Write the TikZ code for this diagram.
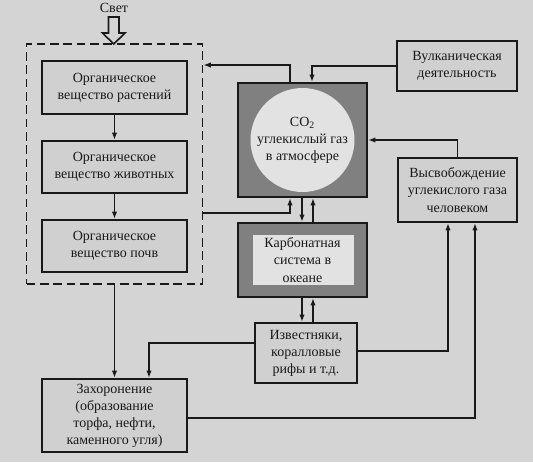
\documentclass[tikz,border=0pt]{standalone}
\usepackage{fontspec}
\setmainfont{Liberation Serif}
\usetikzlibrary{arrows.meta,calc}
\definecolor{bg}{RGB}{212,212,212}
\definecolor{boxfill}{RGB}{208,208,208}
\definecolor{dark}{RGB}{128,128,128}
\definecolor{light}{RGB}{226,226,226}
\definecolor{ink}{RGB}{25,25,25}
\begin{document}
\begin{tikzpicture}[x=0.75pt,y=-0.75pt,
  box/.style={draw=ink,line width=1.6pt,fill=boxfill,align=center,inner sep=0pt,
    font=\fontsize{10.5}{12.8}\selectfont,text=ink},
  arr/.style={draw=ink,line width=1pt,-{Latex[length=5.5pt,width=4pt]}},
  dashbox/.style={draw=ink,dash pattern=on 6.5pt off 3.5pt,line width=1.4pt,inner sep=0pt}]
\fill[bg] (0,0) rectangle (533,462);
\useasboundingbox (0,0) rectangle (533,462);

% light
\node[font=\fontsize{10.5}{12.8}\selectfont,text=ink] (svet) at (114,8) {Свет};
\draw[ink,line width=1.2pt,fill=bg] (108.5,17) -- (119,17) -- (119,33) -- (125,33)
  -- (113.75,44) -- (102.5,33) -- (108.5,33) -- cycle;

% dashed group
\node[dashbox,minimum width=132pt,minimum height=180pt] (dash) at (114.5,164) {};

\node[box,minimum width=108.75pt,minimum height=39.75pt] (p) at (114.5,87.5)
  {Органическое\\вещество растений};
\node[box,minimum width=108.75pt,minimum height=39pt] (a) at (114.5,167)
  {Органическое\\вещество животных};
\node[box,minimum width=108.75pt,minimum height=39pt] (s) at (114.5,246)
  {Органическое\\вещество почв};
\node[box,minimum width=108.75pt,minimum height=54.75pt] (z) at (114.5,415.5)
  {Захоронение\\(образование\\торфа, нефти,\\каменного угля)};

% CO2
\fill[dark] (238,83) rectangle (367,197);
\fill[light] (302.5,140) circle[radius=39pt];
\node[box,fill=none,minimum width=96.75pt,minimum height=85.5pt] (co2) at (302.5,140)
  {CO\textsubscript{2}\\углекислый газ\\в атмосфере};

% carbonate
\fill[dark] (238,223) rectangle (367,297);
\fill[light] (253,235) rectangle (354,285);
\node[box,fill=none,minimum width=96.75pt,minimum height=55.5pt] (carb) at (302.5,260)
  {Карбонатная\\система в\\океане};

\node[box,minimum width=76.5pt,minimum height=45pt] (izv) at (306,353)
  {Известняки,\\коралловые\\рифы и т.д.};
\node[box,minimum width=90pt,minimum height=37.5pt] (vulk) at (457,66)
  {Вулканическая\\деятельность};
\node[box,minimum width=89.25pt,minimum height=48pt] (vysv) at (457.5,190)
  {Высвобождение\\углекислого газа\\человеком};

% connectors
\draw[arr] (p) -- (a);
\draw[arr] (a) -- (s);
\draw[arr] (dash.south) -- (z.north);

\coordinate (c1) at (290,65);
\draw[arr] (c1 |- co2.north) -- (c1) -- (c1 -| dash.east);
\coordinate (c2) at (312,0);
\draw[arr] (vulk.west) -| (c2 |- co2.north);
\draw[arr] (vysv.north) |- (co2.east);

\coordinate (c4) at (290,213);
\draw[arr] (c4 -| dash.east) -- (c4) -- (c4 |- co2.south);
\coordinate (c5) at (313,0);
\coordinate (c6) at (302,0);
\draw[arr] (c6 |- co2.south) -- (c6 |- carb.north);
\draw[arr] (c5 |- carb.north) -- (c5 |- co2.south);
\draw[arr] (c6 |- carb.south) -- (c6 |- izv.north);
\draw[arr] (c5 |- izv.north) -- (c5 |- carb.south);

\coordinate (c7) at (149,343);
\draw[arr] (c7 -| izv.west) -- (c7) -- (c7 |- z.north);
\coordinate (c8) at (448,351);
\draw[arr] (c8 -| izv.east) -- (c8) -- (c8 |- vysv.south);
\coordinate (c9) at (475,418);
\draw[arr] (c9 -| z.east) -- (c9) -- (c9 |- vysv.south);
\end{tikzpicture}
\end{document}
